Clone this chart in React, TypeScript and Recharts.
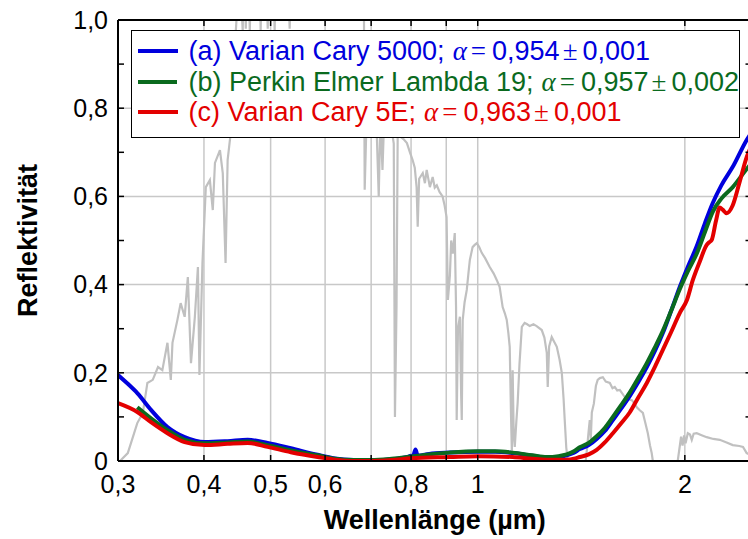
import React from 'react';
import { LineChart, Line, XAxis, YAxis, CartesianGrid, Legend } from 'recharts';

// Solar spectrum (grey background curve), scaled
const solarWl = [
  0.302, 0.31, 0.32, 0.326, 0.331, 0.337, 0.343, 0.348, 0.354, 0.358, 0.36, 0.366, 0.37, 0.375, 0.379, 0.383,
  0.388, 0.392, 0.394, 0.398, 0.4025, 0.408, 0.412, 0.415, 0.422, 0.426, 0.43, 0.433, 0.4375, 0.442, 0.448,
  0.45, 0.4554, 0.458, 0.4601, 0.463, 0.4663, 0.472, 0.48, 0.4836, 0.488, 0.4952, 0.5, 0.5068, 0.512, 0.525,
  0.5329, 0.54, 0.56, 0.59, 0.62, 0.65, 0.675, 0.683, 0.685, 0.69, 0.697, 0.712, 0.718, 0.722, 0.727, 0.732,
  0.745, 0.755, 0.758, 0.762, 0.765, 0.78, 0.789, 0.797, 0.804, 0.81, 0.815, 0.818, 0.822, 0.832, 0.838, 0.843,
  0.852, 0.86, 0.866, 0.872, 0.88, 0.889, 0.895, 0.901, 0.905, 0.911, 0.915, 0.92, 0.926, 0.93, 0.932, 0.936,
  0.942, 0.946, 0.948, 0.951, 0.957, 0.964, 0.97, 0.974, 0.983, 0.99, 0.997, 1.005, 1.0135, 1.025, 1.041,
  1.055, 1.066, 1.076, 1.087, 1.095, 1.102, 1.108, 1.113, 1.118, 1.121, 1.124, 1.128, 1.132, 1.138, 1.143,
  1.15, 1.159, 1.17, 1.18, 1.19, 1.205, 1.218, 1.239, 1.25, 1.26, 1.264, 1.27, 1.281, 1.292, 1.303, 1.315,
  1.325, 1.333, 1.338, 1.345, 1.352, 1.435, 1.442, 1.45, 1.455, 1.46, 1.465, 1.475, 1.485, 1.494, 1.505, 1.52,
  1.535, 1.556, 1.57, 1.582, 1.595, 1.609, 1.636, 1.655, 1.675, 1.69, 1.703, 1.72, 1.738, 1.75, 1.767, 1.78,
  1.79, 1.797, 1.953, 1.965, 1.975, 1.985, 1.995, 2.005, 2.02, 2.035, 2.047, 2.06, 2.081, 2.12, 2.152, 2.2,
  2.248, 2.3, 2.348, 2.4, 2.43, 2.46, 2.5,
];
const solarVal = [
  0.0, 0.018, 0.086, 0.109, 0.177, 0.184, 0.213, 0.206, 0.268, 0.184, 0.268, 0.32, 0.358, 0.327, 0.417, 0.222,
  0.327, 0.44, 0.195, 0.449, 0.621, 0.637, 0.569, 0.676, 0.705, 0.653, 0.449, 0.683, 0.744, 0.9, 1.05,
  1.15, 0.975, 1.2, 0.98, 1.25, 0.975, 1.3, 1.25, 0.975, 1.3, 0.98, 1.35, 0.975, 1.35, 1.3,
  0.98, 1.35, 1.35, 1.33, 1.3, 1.28, 1.2, 1.1, 0.615, 0.8, 0.8, 0.78, 0.6, 0.78, 0.66, 0.8,
  0.78, 0.72, 0.1, 0.35, 0.74, 0.73, 0.721, 0.7, 0.683, 0.665, 0.621, 0.531, 0.64, 0.653, 0.63, 0.66,
  0.621, 0.644, 0.62, 0.625, 0.61, 0.6, 0.58, 0.553, 0.365, 0.42, 0.5, 0.47, 0.517, 0.35, 0.093, 0.3,
  0.327, 0.15, 0.093, 0.32, 0.36, 0.388, 0.43, 0.456, 0.485, 0.49, 0.494, 0.485, 0.472, 0.46, 0.44,
  0.425, 0.41, 0.395, 0.349, 0.335, 0.32, 0.29, 0.259, 0.1, 0.02, 0.206, 0.06, 0.032, 0.09, 0.132,
  0.22, 0.304, 0.313, 0.31, 0.306, 0.31, 0.306, 0.297, 0.28, 0.245, 0.168, 0.26, 0.281, 0.27, 0.259, 0.23,
  0.2, 0.14, 0.093, 0.03, 0.0, 0.0, 0.03, 0.07, 0.093, 0.05, 0.11, 0.13, 0.17, 0.184, 0.188, 0.19,
  0.18, 0.177, 0.165, 0.168, 0.16, 0.161, 0.145, 0.14, 0.138, 0.13, 0.122, 0.115, 0.109, 0.09, 0.063, 0.035,
  0.018, 0.0, 0.0, 0.03, 0.055, 0.035, 0.058, 0.04, 0.063, 0.06, 0.048, 0.062, 0.063, 0.058, 0.054, 0.05,
  0.048, 0.042, 0.036, 0.034, 0.032, 0.018, 0.012,
];

// (a) Varian Cary 5000
const blueWl = [
  0.3, 0.31, 0.32, 0.335, 0.354, 0.375, 0.401, 0.433, 0.463, 0.495, 0.535, 0.585, 0.62, 0.66, 0.7, 0.75, 0.79,
  0.8, 0.805, 0.812, 0.818, 0.85, 0.91, 1.0, 1.06, 1.124, 1.2, 1.26, 1.31, 1.347, 1.38, 1.407, 1.45, 1.489,
  1.53, 1.572, 1.615, 1.663, 1.71, 1.761, 1.81, 1.858, 1.91, 1.967, 2.02, 2.081, 2.14, 2.196, 2.26, 2.348,
  2.46, 2.5,
];
const blueVal = [
  0.195, 0.175, 0.154, 0.116, 0.077, 0.054, 0.043, 0.045, 0.048, 0.041, 0.029, 0.014, 0.006, 0.002, 0.001, 0.004, 0.009,
  0.012, 0.01, 0.026, 0.012, 0.016, 0.019, 0.021, 0.021, 0.018, 0.012, 0.008, 0.009, 0.013, 0.019, 0.027, 0.036, 0.05,
  0.068, 0.093, 0.118, 0.147, 0.178, 0.213, 0.25, 0.29, 0.34, 0.395, 0.44, 0.487, 0.54, 0.585, 0.625, 0.667,
  0.728, 0.745,
];

// (b) Perkin Elmer Lambda 19
const greenWl = [
  0.32, 0.335, 0.354, 0.375, 0.401, 0.433, 0.463, 0.495, 0.535, 0.585, 0.62, 0.66, 0.7, 0.75, 0.8, 0.85, 0.91,
  1.0, 1.06, 1.124, 1.2, 1.26, 1.31, 1.347, 1.38, 1.407, 1.45, 1.489, 1.53, 1.572, 1.615, 1.663, 1.71, 1.761,
  1.81, 1.858, 1.91, 1.967, 2.02, 2.081, 2.14, 2.196, 2.26, 2.348, 2.46, 2.5,
];
const greenVal = [
  0.122, 0.097, 0.07, 0.048, 0.04, 0.042, 0.044, 0.036, 0.024, 0.013, 0.005, 0.002, 0.002, 0.005, 0.01, 0.015, 0.019,
  0.022, 0.022, 0.019, 0.013, 0.009, 0.011, 0.015, 0.022, 0.031, 0.041, 0.056, 0.075, 0.1, 0.126, 0.155, 0.187, 0.222,
  0.258, 0.295, 0.34, 0.39, 0.43, 0.47, 0.52, 0.565, 0.595, 0.621, 0.662, 0.675,
];

// (c) Varian Cary 5E
const redWl = [
  0.3, 0.32, 0.335, 0.354, 0.375, 0.401, 0.433, 0.463, 0.495, 0.535, 0.585, 0.62, 0.66, 0.7, 0.75, 0.8, 0.91,
  1.0, 1.124, 1.2, 1.26, 1.347, 1.38, 1.407, 1.45, 1.489, 1.53, 1.572, 1.615, 1.663, 1.71, 1.761, 1.81, 1.858,
  1.91, 1.967, 2.014, 2.054, 2.1, 2.152, 2.17, 2.188, 2.22, 2.2475, 2.27, 2.3, 2.348, 2.4, 2.46, 2.5,
];
const redVal = [
  0.131, 0.111, 0.088, 0.063, 0.043, 0.036, 0.039, 0.041, 0.032, 0.02, 0.009, 0.003, 0.0, 0.0, 0.002, 0.006, 0.009,
  0.011, 0.009, 0.005, 0.003, 0.003, 0.005, 0.009, 0.015, 0.025, 0.042, 0.063, 0.085, 0.11, 0.143, 0.177, 0.214, 0.252,
  0.292, 0.336, 0.365, 0.41, 0.45, 0.49, 0.496, 0.501, 0.545, 0.575, 0.57, 0.562, 0.58, 0.63, 0.689, 0.715,
];

const xTicks = [0.3, 0.4, 0.5, 0.6, 0.7, 0.8, 0.9, 1, 2];
const xTickLabels = ['0,3', '0,4', '0,5', '0,6', '', '0,8', '', '1', '2'];
const yTicks = [0, 0.1, 0.2, 0.3, 0.4, 0.5, 0.6, 0.7, 0.8, 0.9, 1.0];
const yTickLabels = ['0', '', '0,2', '', '0,4', '', '0,6', '', '0,8', '', '1,0'];
const yGrid = [0.2, 0.4, 0.6, 0.8];

const seriesNames = ['(a) Varian Cary 5000;', '(b) Perkin Elmer Lambda 19;', '(c) Varian Cary 5E;'];
const alphaValues = ['0,954', '0,957', '0,963'];
const alphaErrors = ['0,001', '0,002', '0,001'];
const seriesColors = ['#0000dd', '#0a6a1e', '#e30000'];

const xTitle = 'Wellenlänge (µm)';
const yTitle = 'Reflektivität';

const toPoints = (xs: number[], ys: number[]) => xs.map((x, i) => ({ x, y: ys[i] }));
const solarData = toPoints(solarWl, solarVal);
const seriesData = [toPoints(blueWl, blueVal), toPoints(greenWl, greenVal), toPoints(redWl, redVal)];

const fmtX = (v: number) => {
  const i = xTicks.findIndex((t) => Math.abs(t - v) < 1e-6);
  return i >= 0 ? xTickLabels[i] : '';
};
const fmtY = (v: number) => {
  const i = yTicks.findIndex((t) => Math.abs(t - v) < 1e-6);
  return i >= 0 ? yTickLabels[i] : '';
};
const blank = () => '';

const FONT = 'Liberation Sans, Arial, sans-serif';
const SERIF = 'Liberation Serif, Times New Roman, serif';

const tickStyle = { fill: '#000', fontSize: 25, fontFamily: FONT };
const axisLineStyle = { stroke: '#000', strokeWidth: 2 };
const tickLineStyle = { stroke: '#000', strokeWidth: 1.5 };

const YTitle = (props: any) => {
  const vb = props.viewBox || { x: 58, y: 20, height: 441 };
  const cx = vb.x - 21;
  const cy = vb.y + vb.height / 2;
  return (
    <text
      x={cx}
      y={cy}
      transform={`rotate(-90 ${cx} ${cy})`}
      textAnchor="middle"
      fontFamily={FONT}
      fontWeight="bold"
      fontSize={27}
      fill="#000"
    >
      {yTitle}
    </text>
  );
};

const LegendBox = () => (
  <div
    style={{
      boxSizing: 'border-box',
      width: 609,
      height: 108,
      border: '1.5px solid #000',
      background: '#fff',
      paddingTop: 5,
      paddingLeft: 5.5,
      textAlign: 'left',
    }}
  >
    {seriesNames.map((n, i) => (
      <div
        key={n}
        style={{
          display: 'flex',
          alignItems: 'center',
          height: 30.5,
          whiteSpace: 'nowrap',
          color: seriesColors[i],
          fontFamily: FONT,
          fontSize: 27,
          lineHeight: '30px',
        }}
      >
        <span
          style={{ display: 'inline-block', width: 40, height: 0, borderTop: `4px solid ${seriesColors[i]}`, marginRight: 11 }}
        />
        <span>{n}</span>
        <span style={{ fontFamily: SERIF, fontStyle: 'italic', marginLeft: 8 }}>α</span>
        <span style={{ fontFamily: SERIF, margin: '0 6px 0 4px' }}>=</span>
        <span>{alphaValues[i]}</span>
        <span style={{ fontFamily: SERIF, margin: '0 5px 0 3px' }}>±</span>
        <span>{alphaErrors[i]}</span>
      </div>
    ))}
  </div>
);

export default function App() {
  return (
    <div style={{ position: 'absolute', left: 0, top: 0, width: 748, height: 539, overflow: 'hidden', background: '#fff' }}>
      <LineChart width={754} height={539} margin={{ top: 19, right: 1.5, bottom: 48, left: 58 }}>
        <CartesianGrid
          xAxisId="b"
          yAxisId="l"
          horizontalValues={yGrid}
          stroke="#c8c8c8"
          strokeWidth={1.5}
        />
        <XAxis
          xAxisId="b"
          dataKey="x"
          type="number"
          scale="log"
          domain={[0.3, 2.5]}
          allowDataOverflow
          ticks={xTicks}
          interval={0}
          tickFormatter={fmtX}
          tickSize={-6}
          tickMargin={20}
          height={30}
          axisLine={axisLineStyle}
          tickLine={tickLineStyle}
          tick={tickStyle}
          label={{ value: xTitle, position: 'bottom', offset: 19, fontSize: 27, fontWeight: 'bold', fill: '#000', fontFamily: FONT }}
        />
        <XAxis
          xAxisId="t"
          orientation="top"
          dataKey="x"
          type="number"
          scale="log"
          domain={[0.3, 2.5]}
          allowDataOverflow
          ticks={xTicks}
          interval={0}
          tickFormatter={blank}
          tickSize={-6}
          height={1}
          axisLine={axisLineStyle}
          tickLine={tickLineStyle}
          tick={tickStyle}
        />
        <YAxis
          yAxisId="l"
          type="number"
          domain={[0, 1]}
          allowDataOverflow
          ticks={yTicks}
          interval={0}
          tickFormatter={fmtY}
          tickSize={-6}
          tickMargin={16}
          width={60}
          axisLine={axisLineStyle}
          tickLine={tickLineStyle}
          tick={tickStyle}
          label={{ content: YTitle }}
        />
        <YAxis
          yAxisId="r"
          orientation="right"
          type="number"
          domain={[0, 1]}
          allowDataOverflow
          ticks={yTicks}
          interval={0}
          tickFormatter={blank}
          tickSize={-6}
          width={1}
          axisLine={axisLineStyle}
          tickLine={tickLineStyle}
          tick={tickStyle}
        />
        <Line
          xAxisId="b"
          yAxisId="l"
          data={solarData}
          dataKey="y"
          type="linear"
          stroke="#c0c0c0"
          strokeWidth={2.2}
          dot={false}
          activeDot={false}
          legendType="none"
          isAnimationActive={false}
        />
        {seriesData.map((d, i) => (
          <Line
            key={seriesNames[i]}
            xAxisId="b"
            yAxisId="l"
            data={d}
            dataKey="y"
            name={seriesNames[i]}
            type="monotone"
            stroke={seriesColors[i]}
            strokeWidth={4}
            dot={false}
            activeDot={false}
            isAnimationActive={false}
          />
        ))}
        <Legend
          layout="vertical"
          align="center"
          verticalAlign="middle"
          content={() => <LegendBox />}
          wrapperStyle={{ left: 131, top: 30, width: 609, height: 108 }}
        />
      </LineChart>
    </div>
  );
}
